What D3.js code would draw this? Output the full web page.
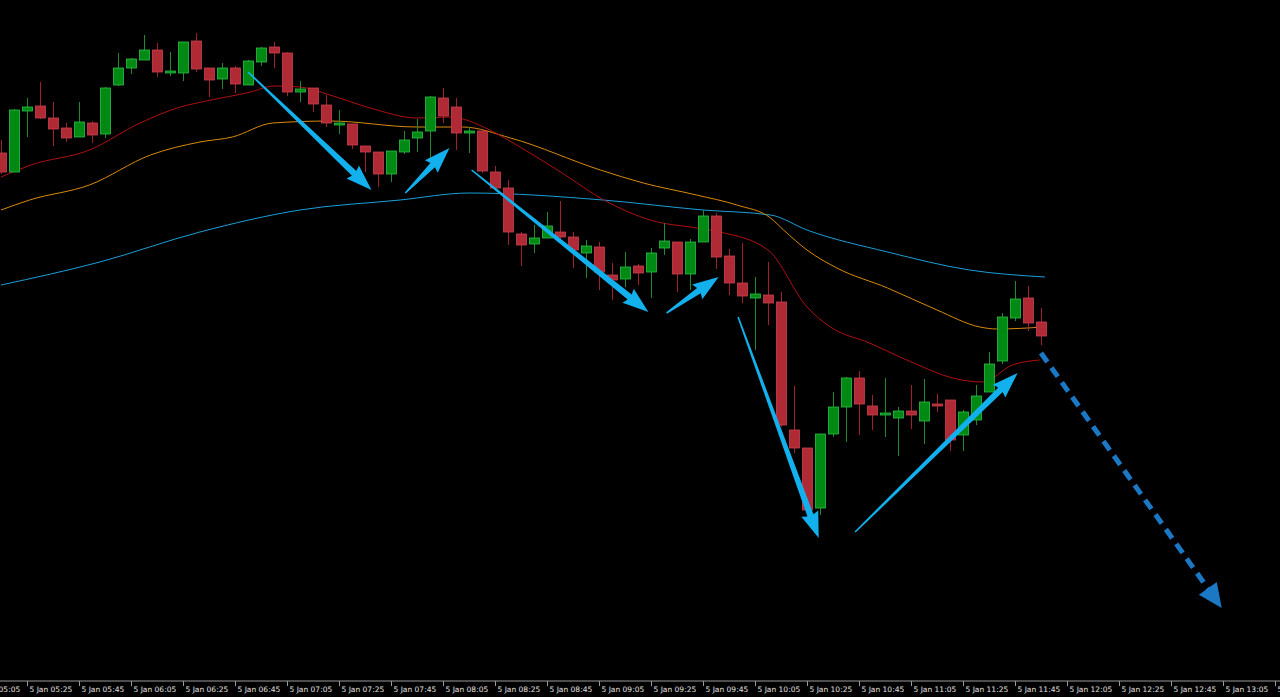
<!DOCTYPE html>
<html>
<head>
<meta charset="utf-8">
<script src="https://cdn.jsdelivr.net/npm/d3@7"></script>
<style>
  html, body { margin: 0; padding: 0; background: #000; overflow: hidden; }
</style>
</head>
<body>
<div id="chart"></div>
<script>
// candle data (5 min bars from 5 Jan 05:15)
var opens  = [847,828,889,894,882,872,863,877,866,915,932,940,950,927,927,959,932,921,932,915,938,953,947,908,912,895,876,876,854,848,826,848,862,869,902,893,867,869,828,812,766,756,762,768,763,747,753,725,721,734,728,752,758,726,758,784,744,717,702,705,698,570,552,492,566,593,622,594,586,582,589,579,596,600,565,580,608,639,682,702,678];
var highs  = [860,891,902,918,898,877,898,879,913,947,942,965,957,948,958,967,932,937,934,940,953,958,948,919,912,905,890,876,854,848,849,869,881,904,912,902,873,869,834,820,768,775,788,799,768,760,758,737,748,736,752,777,758,761,790,787,751,757,723,738,708,614,552,566,608,623,629,605,622,593,615,621,606,600,590,615,648,687,719,714,692];
var lows   = [826,828,863,881,854,858,863,857,862,914,926,940,923,924,919,928,903,911,907,915,934,932,904,898,888,873,866,851,828,813,818,846,848,838,877,850,847,827,810,755,734,747,762,760,732,722,710,700,713,715,702,745,708,710,758,731,705,697,650,675,573,547,485,485,563,558,565,570,563,544,571,556,588,549,549,575,608,636,679,669,655];
var closes = [828,890,893,882,871,862,878,865,912,932,941,950,928,929,958,931,920,932,916,939,952,947,908,911,896,877,877,855,848,826,849,860,868,903,884,867,869,829,812,768,755,762,774,763,750,754,728,720,733,727,747,759,726,758,784,743,717,704,706,697,575,552,490,566,593,622,596,585,587,589,585,598,595,560,588,604,636,683,701,677,664];

// moving averages, read at bar positions: [bar, value]
var maFast = [[0,823],[2.3,835],[6.8,850],[10.7,877],[13.8,893],[15.8,899],[19.2,908],[21,914],[23,913],[25.3,905],[28.4,892],[32,882],[34.5,883],[37.6,870],[39,860],[42.8,830],[46.8,797],[50.5,778],[53,773],[55.3,768],[59,750],[62,693],[63.8,673],[66.8,657],[70.2,637],[73.2,622],[75.5,618],[77.8,635],[79.9,640]];
var maMid  = [[0,790],[2.2,800],[6.8,815],[11.5,845],[15.3,858],[17.8,863],[20.9,877],[25.3,879],[32,873],[35.5,873],[39.2,862],[46.1,830],[49.4,817],[53.5,805],[56.6,795],[59.2,782],[60.2,770],[62,750],[64.3,732],[68.2,712],[72,690],[75.3,673],[76.6,671],[80.2,673]];
var maSlow = [[0,715],[7.6,738],[15.3,768],[23,790],[30.7,800],[36,807],[46.3,800],[54,790],[59.2,785],[62,770],[68.2,748],[74.5,730],[80.3,723]];

// drawn arrows: [bar1, price1, bar2, price2]
var arrows = [[19,928,28.5,810],[31.1,807,34.5,852],[36.2,830,49.8,688],[51.2,687,55.2,723],[56.7,683,62.9,462],[65.7,468,78.2,627]];
var forecast = [80,647,93.9,392];

var width = 1280, height = 697;
var svg = d3.select("#chart").append("svg")
    .attr("width", width).attr("height", height)
    .style("background", "#000");

var x = d3.scaleLinear().domain([0, 1]).range([1, 14]);
var y = d3.scaleLinear().domain([303, 1000]).range([697, 0]);

var line = d3.line().x(function(d){ return x(d[0]); }).y(function(d){ return y(d[1]); }).curve(d3.curveMonotoneX);
svg.append("path").datum(maSlow).attr("d", line).attr("fill","none").attr("stroke","#1a9fd8").attr("stroke-width",1);
svg.append("path").datum(maMid).attr("d", line).attr("fill","none").attr("stroke","#d98a0a").attr("stroke-width",1);
svg.append("path").datum(maFast).attr("d", line).attr("fill","none").attr("stroke","#b01010").attr("stroke-width",1);

// candles
var bars = opens.map(function(o, i){ return {i:i, o:o, h:highs[i], l:lows[i], c:closes[i]}; });
var g = svg.append("g");
g.selectAll("line.wick").data(bars).enter().append("line")
    .attr("x1", function(d){ return x(d.i) + 0.5; })
    .attr("x2", function(d){ return x(d.i) + 0.5; })
    .attr("y1", function(d){ return y(d.h); })
    .attr("y2", function(d){ return y(d.l); })
    .attr("stroke", function(d){ return d.c >= d.o ? "#1f8a2e" : "#a02030"; });
g.selectAll("rect").data(bars).enter().append("rect")
    .attr("x", function(d){ return x(d.i) - 4.5; })
    .attr("width", 10)
    .attr("y", function(d){ return y(Math.max(d.o, d.c)); })
    .attr("height", function(d){ return Math.max(2, Math.abs(y(d.o) - y(d.c))); })
    .attr("fill", function(d){ return d.c >= d.o ? "#008a14" : "#b02a36"; })
    .attr("stroke", function(d){ return d.c >= d.o ? "#2fbf48" : "#c9404c"; })
    .attr("stroke-width", 0.8);

// tapered arrows
function arrowPath(a){
  var x1 = x(a[0]), y1 = y(a[1]), x2 = x(a[2]), y2 = y(a[3]);
  var dx = x2 - x1, dy = y2 - y1, len = Math.sqrt(dx*dx + dy*dy);
  var ux = dx/len, uy = dy/len, nx = -uy, ny = ux;
  var hl = 24, hw = 9, sw = 3.2, tw = 0.8;
  var bx = x2 - ux*hl, by = y2 - uy*hl;
  var pts = [
    [x1 + nx*tw, y1 + ny*tw],
    [bx + nx*sw, by + ny*sw],
    [bx + nx*hw - ux*2, by + ny*hw - uy*2],
    [x2, y2],
    [bx - nx*hw - ux*2, by - ny*hw - uy*2],
    [bx - nx*sw, by - ny*sw],
    [x1 - nx*tw, y1 - ny*tw]
  ];
  return "M" + pts.map(function(p){ return p[0] + "," + p[1]; }).join("L") + "Z";
}
svg.selectAll("path.arrow").data(arrows).enter().append("path")
    .attr("class","arrow").attr("d", arrowPath).attr("fill", "#12b0ec");

// dashed forecast arrow
(function(){
  var x1 = x(forecast[0]), y1 = y(forecast[1]), x2 = x(forecast[2]), y2 = y(forecast[3]);
  var dx = x2 - x1, dy = y2 - y1, len = Math.sqrt(dx*dx + dy*dy);
  var ux = dx/len, uy = dy/len, nx = -uy, ny = ux;
  svg.append("line").attr("x1", x1).attr("y1", y1)
      .attr("x2", x2 - ux*18).attr("y2", y2 - uy*18)
      .attr("stroke", "#1a78c4").attr("stroke-width", 5).attr("stroke-dasharray", "11,7");
  var bx = x2 - ux*24, by = y2 - uy*24;
  svg.append("path")
      .attr("d", "M" + x2 + "," + y2 + "L" + (bx + nx*11) + "," + (by + ny*11) + "L" + (bx - nx*11) + "," + (by - ny*11) + "Z")
      .attr("fill", "#1a78c4");
})();

// time axis
var t0 = new Date(2024, 0, 5, 5, 15);
var tickBars = d3.range(-2, 100, 4);
var fmt = d3.timeFormat("%H:%M");
var ax = svg.append("g");
ax.append("line").attr("x1", 0).attr("x2", width).attr("y1", 681).attr("y2", 681).attr("stroke", "#9a9a9a");
var tk = ax.selectAll("g.tick").data(tickBars).enter().append("g")
    .attr("transform", function(d){ return "translate(" + (x(d) + 0.5) + ",0)"; });
tk.append("line").attr("y1", 681).attr("y2", 686).attr("stroke", "#9a9a9a");
tk.append("text").attr("x", 2).attr("y", 692)
    .attr("fill", "#e0e0e0").attr("font-family", "DejaVu Sans, sans-serif").attr("font-size", "7.5px")
    .text(function(d){ return "5 Jan " + fmt(new Date(t0.getTime() + d*5*60000)); });
</script>
</body>
</html>
